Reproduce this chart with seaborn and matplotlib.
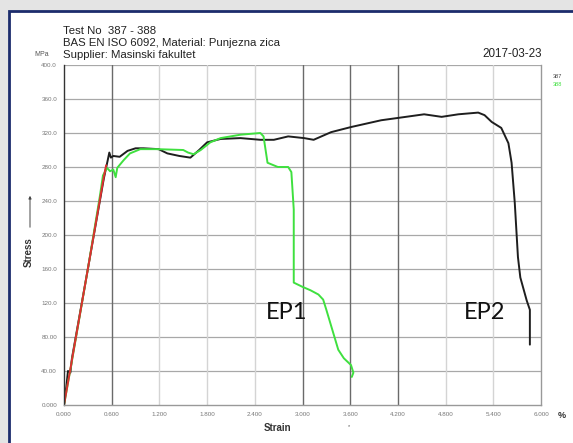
import pandas as pd
import matplotlib
matplotlib.use('Agg')
import matplotlib.pyplot as plt
from matplotlib.patches import Rectangle
import seaborn as sns

# Test 387 (black)
strain_387 = [0.0, 0.03, 0.05, 0.08, 0.10, 0.30, 0.50, 0.55, 0.57, 0.59, 0.62, 0.70, 0.80, 0.90,
              1.00, 1.19, 1.30, 1.45, 1.59, 1.70, 1.80, 1.97, 2.22, 2.47, 2.64, 2.82, 3.02, 3.14,
              3.36, 3.61, 3.99, 4.30, 4.53, 4.75, 4.96, 5.21, 5.29, 5.38, 5.50, 5.59, 5.63, 5.67,
              5.71, 5.74, 5.82, 5.86, 5.86]
stress_387 = [0, 22, 40, 38, 55, 160, 266, 288, 297, 291, 293, 292, 299, 302,
              302, 301, 296, 293, 291, 300, 309, 313, 314, 312, 312, 316, 314, 312,
              321, 327, 335, 339, 342, 339, 342, 344, 341, 333, 326, 308, 285, 238,
              174, 150, 123, 112, 71]

# Test 388 (green)
strain_388 = [0.0, 0.10, 0.30, 0.45, 0.49, 0.54, 0.58, 0.62, 0.65, 0.67, 0.75, 0.83, 0.96,
              1.17, 1.50, 1.56, 1.63, 1.72, 1.84, 1.97, 2.22, 2.47, 2.51, 2.56, 2.69, 2.82,
              2.86, 2.89, 2.89, 3.00, 3.10, 3.20, 3.26, 3.30, 3.45, 3.52, 3.61, 3.64, 3.62]
stress_388 = [0, 52, 160, 245, 270, 279, 275, 277, 268, 279, 288, 296, 301,
              301, 300, 297, 295, 300, 309, 314, 318, 320, 316, 285, 280, 280,
              274, 230, 144, 139, 135, 130, 124, 112, 65, 55, 47, 38, 33]

# elastic part marked in red
strain_red = [0.0, 0.10, 0.30, 0.50, 0.53]
stress_red = [0, 53, 160, 268, 282]

x_ticks = [0.0, 0.6, 1.2, 1.8, 2.4, 3.0, 3.6, 4.2, 4.8, 5.4, 6.0]
x_labels = ['0.000', '0.600', '1.200', '1.800', '2.400', '3.000', '3.600', '4.200', '4.800', '5.400', '6.000']
y_ticks = [0, 40, 80, 120, 160, 200, 240, 280, 320, 360, 400]
y_labels = ['0.000', '40.00', '80.00', '120.0', '160.0', '200.0', '240.0', '280.0', '320.0', '360.0', '400.0']
dark_vlines = [0.6, 3.0, 3.6, 4.2]

df = pd.concat([
    pd.DataFrame({'strain': strain_387, 'stress': stress_387, 'test': '387'}),
    pd.DataFrame({'strain': strain_388, 'stress': stress_388, 'test': '388'}),
    pd.DataFrame({'strain': strain_red, 'stress': stress_red, 'test': 'red'}),
])

sns.set_style('white')
plt.rcParams['font.family'] = ['Liberation Sans', 'DejaVu Sans']

fig = plt.figure(figsize=(5.73, 4.43), dpi=100)
fig.patch.set_facecolor('#e4e4e4')
# window frame
fig.add_artist(Rectangle((9 / 573, -0.1), 1.2, (443 - 11) / 443 + 0.1, transform=fig.transFigure,
                         facecolor='white', edgecolor='#1c2c6c', linewidth=2, zorder=-10))

ax = fig.add_axes([64 / 573, 38 / 443, 477 / 573, 340 / 443])
ax.set_facecolor('none')

for y in y_ticks[1:]:
    ax.axhline(y, color='#a8a8a8', linewidth=0.9, zorder=0)
for x in x_ticks[1:-1]:
    c = '#6a6a6a' if x in dark_vlines else '#d4d4d4'
    ax.axvline(x, color=c, linewidth=1.0, zorder=0)

sns.lineplot(data=df, x='strain', y='stress', hue='test', sort=False, estimator=None,
             palette={'387': '#1e1e1e', '388': '#3fe03f', 'red': '#dd3030'},
             linewidth=1.4, legend=False, ax=ax)

ax.set_xlim(0, 6.0)
ax.set_ylim(0, 400)
ax.set_xticks(x_ticks)
ax.set_xticklabels(x_labels)
ax.set_yticks(y_ticks)
ax.set_yticklabels(y_labels)
ax.tick_params(length=0, labelsize=4.5, labelcolor='#777777', pad=5)
ax.set_xlabel('')
ax.set_ylabel('')
ax.spines['top'].set_visible(False)
ax.spines['left'].set_color('#333333')
ax.spines['bottom'].set_color('#999999')
ax.spines['right'].set_color('#999999')
for s in ['left', 'bottom', 'right']:
    ax.spines[s].set_linewidth(1.0)

# header texts
fig.text(63 / 573, 1 - 31 / 443, 'Test No  387 - 388', fontsize=8.2, va='center', color='#222222')
fig.text(63 / 573, 1 - 43 / 443, 'BAS EN ISO 6092, Material: Punjezna zica', fontsize=8.2, va='center', color='#222222')
fig.text(63 / 573, 1 - 55 / 443, 'Supplier: Masinski fakultet', fontsize=8.2, va='center', color='#222222')
fig.text(542 / 573, 1 - 54 / 443, '2017-03-23', fontsize=8.4, ha='right', va='center', color='#222222')
fig.text(49 / 573, 1 - 55 / 443, 'MPa', fontsize=5, ha='right', va='center', color='#555555')
fig.text(553 / 573, 1 - 76 / 443, '387', fontsize=4, va='center', color='#444444')
fig.text(553 / 573, 1 - 84 / 443, '388', fontsize=4, va='center', color='#3fe03f')
fig.text(562 / 573, 1 - 415 / 443, '%', fontsize=6.5, ha='center', va='center', color='#333333', fontweight='bold')
fig.text(278 / 573, 1 - 428 / 443, 'Strain', fontsize=7, ha='center', va='center', color='#333333', fontweight='bold')
fig.text(349 / 573, 1 - 427 / 443, '*', fontsize=4, ha='center', va='center', color='#555555')
fig.text(29 / 573, 1 - 252 / 443, 'Stress', fontsize=7, ha='center', va='center', rotation=90,
         color='#333333', fontweight='bold')
ax.annotate('', xy=(30 / 573, 1 - 193 / 443), xytext=(30 / 573, 1 - 230 / 443),
            xycoords='figure fraction', textcoords='figure fraction',
            arrowprops=dict(arrowstyle='-|>', color='#444444', lw=0.7, mutation_scale=4),
            annotation_clip=False)

# EP labels
ax.text(2.54, 101, 'EP1', fontsize=17, color='#111111', family=['Lato', 'DejaVu Sans'])
ax.text(5.03, 101, 'EP2', fontsize=17, color='#111111', family=['Lato', 'DejaVu Sans'])

fig.savefig('out.png', dpi=100, facecolor=fig.get_facecolor())
